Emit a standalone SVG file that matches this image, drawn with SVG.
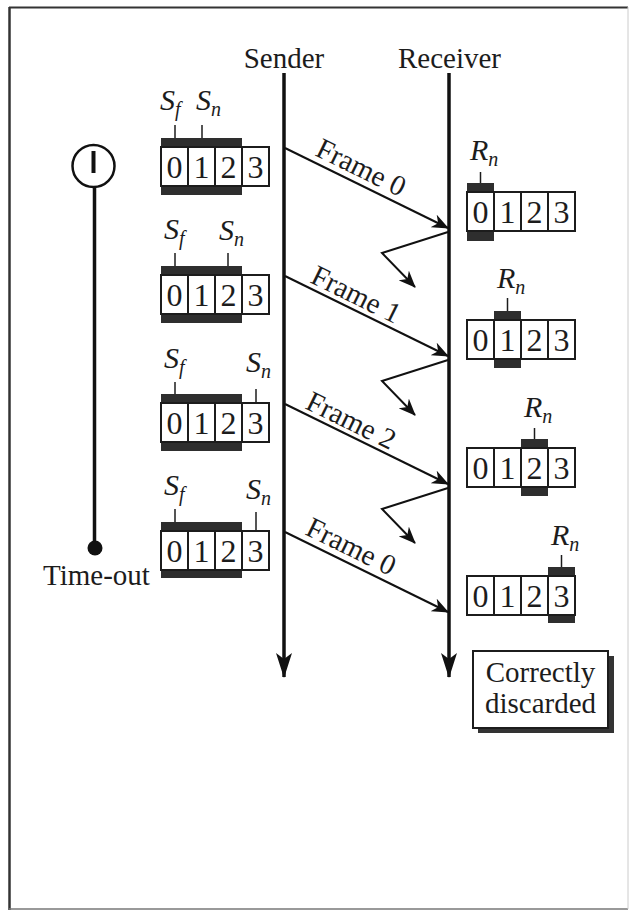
<svg xmlns="http://www.w3.org/2000/svg" width="631" height="912" viewBox="0 0 631 912">
<style>
.t{font-family:"Liberation Serif","Times New Roman",serif;font-size:29px;fill:#1c1c1c}
.d{font-family:"Liberation Serif","Times New Roman",serif;font-size:32px;fill:#1c1c1c;text-anchor:middle}
.v{font-family:"Liberation Serif","Times New Roman",serif;font-style:italic;font-size:30px;fill:#1c1c1c}
.sub{font-size:20px}
.cell{fill:#fff;stroke:#1c1c1c;stroke-width:2}
.band{fill:#2e2e2e}
.tick{stroke:#1c1c1c;stroke-width:1.5}
.fr{stroke:#111;stroke-width:2;fill:none}
.tl{stroke:#111;stroke-width:3.5;fill:none}
</style>
<defs>
<marker id="ah" markerUnits="userSpaceOnUse" markerWidth="18" markerHeight="14" refX="16" refY="7" orient="auto">
<path d="M0,0 L17,7 L0,14 L5,7 Z" fill="#111"/>
</marker>
<marker id="big" markerUnits="userSpaceOnUse" markerWidth="26" markerHeight="16" refX="24" refY="8" orient="auto">
<path d="M0,0 L25,8 L0,16 L6,8 Z" fill="#111"/>
</marker>
<g id="cells">
<rect class="cell" x="0" y="0" width="27" height="39"/>
<rect class="cell" x="27" y="0" width="27" height="39"/>
<rect class="cell" x="54" y="0" width="27" height="39"/>
<rect class="cell" x="81" y="0" width="27" height="39"/>
<text class="d" x="13.5" y="30.5">0</text>
<text class="d" x="40.5" y="30.5">1</text>
<text class="d" x="67.5" y="30.5">2</text>
<text class="d" x="94.5" y="30.5">3</text>
</g>
</defs>

<g id="border">
<line x1="9" y1="7.5" x2="628" y2="7.5" stroke="#333" stroke-width="2"/>
<line x1="9.5" y1="7" x2="9.5" y2="910" stroke="#333" stroke-width="2.5"/>
<line x1="9" y1="909" x2="628" y2="909" stroke="#777" stroke-width="1.5"/>
<line x1="628" y1="7" x2="628" y2="909" stroke="#ccc" stroke-width="1"/>
</g>

<g id="sender">
<text class="t" x="284" y="68" text-anchor="middle">Sender</text>
</g>
<g id="receiver">
<text class="t" x="449.5" y="68" text-anchor="middle">Receiver</text>
</g>

<g id="timer">
<circle cx="93.5" cy="166" r="21" fill="#fff" stroke="#111" stroke-width="2.5"/>
<line x1="93.5" y1="151" x2="93.5" y2="173" stroke="#111" stroke-width="4"/>
<line x1="94.5" y1="187" x2="94.5" y2="548" stroke="#111" stroke-width="3.5"/>
<circle cx="95" cy="548" r="7.5" fill="#111"/>
<text class="t" x="43" y="585">Time-out</text>
</g>

<g id="sender-window-1">
<rect class="band" x="161" y="138" width="81" height="57"/>
<use href="#cells" x="161" y="147"/>
<line class="tick" x1="175" y1="125" x2="175" y2="138"/>
<line class="tick" x1="202" y1="125" x2="202" y2="138"/>
<text class="v" x="160" y="110">S<tspan class="sub" dy="6">f</tspan></text>
<text class="v" x="196" y="110">S<tspan class="sub" dy="6">n</tspan></text>
</g>
<g id="sender-window-2">
<rect class="band" x="161" y="266" width="81" height="57"/>
<use href="#cells" x="161" y="275"/>
<line class="tick" x1="175" y1="253" x2="175" y2="266"/>
<line class="tick" x1="228" y1="253" x2="228" y2="266"/>
<text class="v" x="164" y="239">S<tspan class="sub" dy="6">f</tspan></text>
<text class="v" x="219" y="240">S<tspan class="sub" dy="6">n</tspan></text>
</g>
<g id="sender-window-3">
<rect class="band" x="161" y="394" width="81" height="57"/>
<use href="#cells" x="161" y="403"/>
<line class="tick" x1="175" y1="382" x2="175" y2="394"/>
<line class="tick" x1="256" y1="389" x2="256" y2="403"/>
<text class="v" x="164" y="368">S<tspan class="sub" dy="6">f</tspan></text>
<text class="v" x="246" y="372">S<tspan class="sub" dy="6">n</tspan></text>
</g>
<g id="sender-window-4">
<rect class="band" x="161" y="522" width="81" height="56"/>
<use href="#cells" x="161" y="531"/>
<line class="tick" x1="175" y1="509" x2="175" y2="522"/>
<line class="tick" x1="256" y1="512" x2="256" y2="531"/>
<text class="v" x="164" y="495">S<tspan class="sub" dy="6">f</tspan></text>
<text class="v" x="246" y="499">S<tspan class="sub" dy="6">n</tspan></text>
</g>

<g id="receiver-window-1">
<rect class="band" x="467" y="183" width="27" height="58"/>
<use href="#cells" x="467" y="192"/>
<line class="tick" x1="480.5" y1="172" x2="480.5" y2="183"/>
<text class="v" x="470" y="160">R<tspan class="sub" dy="6">n</tspan></text>
</g>
<g id="receiver-window-2">
<rect class="band" x="494" y="311" width="27" height="57"/>
<use href="#cells" x="467" y="320"/>
<line class="tick" x1="507.5" y1="298" x2="507.5" y2="311"/>
<text class="v" x="497" y="288">R<tspan class="sub" dy="6">n</tspan></text>
</g>
<g id="receiver-window-3">
<rect class="band" x="521" y="439" width="27" height="57"/>
<use href="#cells" x="467" y="448"/>
<line class="tick" x1="534.5" y1="428" x2="534.5" y2="439"/>
<text class="v" x="524" y="417">R<tspan class="sub" dy="6">n</tspan></text>
</g>
<g id="receiver-window-4">
<rect class="band" x="548" y="567" width="27" height="56"/>
<use href="#cells" x="467" y="576"/>
<line class="tick" x1="561.5" y1="555" x2="561.5" y2="567"/>
<text class="v" x="551" y="545">R<tspan class="sub" dy="6">n</tspan></text>
</g>

<g id="discard-note">
<rect x="478" y="656" width="136" height="77" fill="#333"/>
<rect x="473" y="651" width="135" height="77" fill="#fff" stroke="#1c1c1c" stroke-width="2"/>
<text class="t" x="540.5" y="682" text-anchor="middle">Correctly</text>
<text class="t" x="540.5" y="713" text-anchor="middle">discarded</text>
</g>

<g id="connectors">
<line class="tl" x1="284" y1="73" x2="284" y2="677" marker-end="url(#big)"/>
<line class="tl" x1="449" y1="73" x2="449" y2="677" marker-end="url(#big)"/>
<line class="fr" x1="285" y1="148" x2="448" y2="228" marker-end="url(#ah)"/>
<line class="fr" x1="285" y1="276" x2="448" y2="356" marker-end="url(#ah)"/>
<line class="fr" x1="285" y1="404" x2="448" y2="484" marker-end="url(#ah)"/>
<line class="fr" x1="285" y1="532" x2="448" y2="612" marker-end="url(#ah)"/>
<polyline class="fr" points="448,232 382,253 415,287" marker-end="url(#ah)"/>
<polyline class="fr" points="448,360 382,381 415,415" marker-end="url(#ah)"/>
<polyline class="fr" points="448,488 382,509 415,543" marker-end="url(#ah)"/>
<text class="t" transform="translate(314,155) rotate(26.1)">Frame 0</text>
<text class="t" transform="translate(309,282) rotate(26.1)">Frame 1</text>
<text class="t" transform="translate(304,408) rotate(26.1)">Frame 2</text>
<text class="t" transform="translate(304,534) rotate(26.1)">Frame 0</text>
</g>
</svg>
